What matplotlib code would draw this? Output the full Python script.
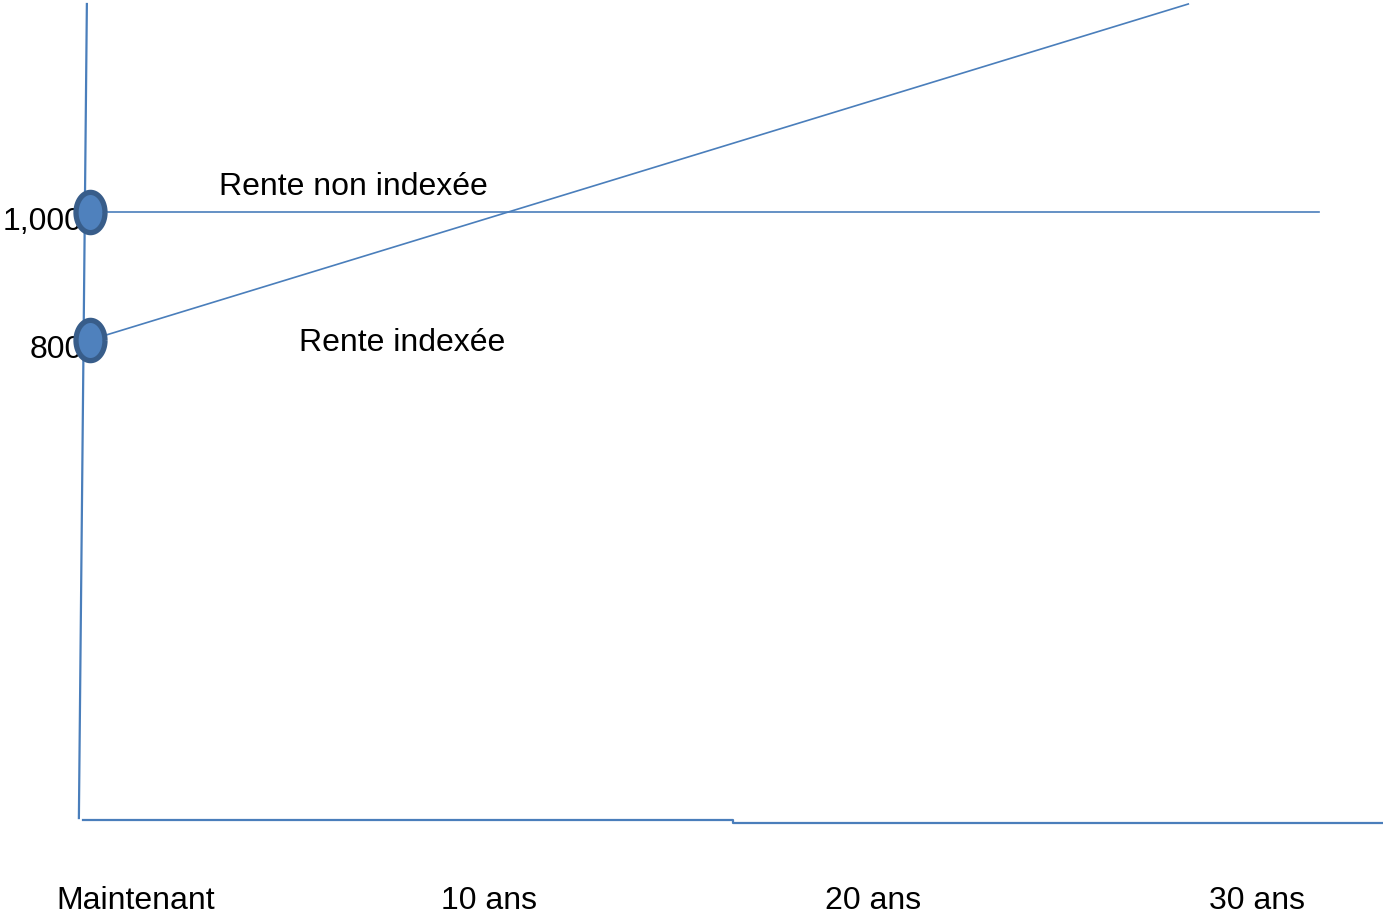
import matplotlib.pyplot as plt
from matplotlib.path import Path
import numpy as np

# data
flat_years = [0, 32]
flat_values = [1000, 1000]
indexed_years = [0, 28.6]
indexed_values = [800, 1325]
tick_years = [1.2, 10.4, 20.4, 30.4]
tick_labels = ['Maintenant', '10 ans', '20 ans', '30 ans']
value_ticks = [1000, 800]
value_labels = ['1,000', '800']

line_col = '#4A7EBB'
plt.rcParams['font.family'] = ['Liberation Sans', 'DejaVu Sans']

fig = plt.figure(figsize=(13.83, 9.14), dpi=100)
ax = fig.add_axes([0, 0, 1, 1])
ax.set_xlim(-2.34, 33.67)
ax.set_ylim(-96.9, 1331.25)
ax.axis('off')

# hand drawn axes
ax.plot([-0.078, -0.286], [1325, 53], color=line_col, lw=1.6)
ax.plot([-0.18, 16.74, 16.74, 33.67], [50, 50, 45.3, 45.3], color=line_col, lw=1.6)

ax.plot(flat_years, flat_values, color=line_col, lw=1.2)
ax.plot(indexed_years, indexed_values, color=line_col, lw=1.2)

# elliptical markers
t = np.linspace(0, 2 * np.pi, 60)
ellipse = Path(np.column_stack([0.72 * np.cos(t), np.sin(t)]))
ax.plot([flat_years[0], indexed_years[0]], [flat_values[0], indexed_values[0]],
        ls='none', marker=ellipse, ms=29, mfc='#4F81BD', mec='#385D8A', mew=3.8, zorder=5)

for v, lab in zip(value_ticks, value_labels):
    ax.text(-0.18, v - 16, lab, ha='right', va='center', fontsize=23)

for x, lab in zip(tick_years, tick_labels):
    ax.text(x, -77, lab, ha='center', va='center', fontsize=23)

ax.text(3.36, 1039, 'Rente non indexée', ha='left', va='center', fontsize=23)
ax.text(5.44, 795, 'Rente indexée', ha='left', va='center', fontsize=23)

fig.savefig('out.png', dpi=100)
